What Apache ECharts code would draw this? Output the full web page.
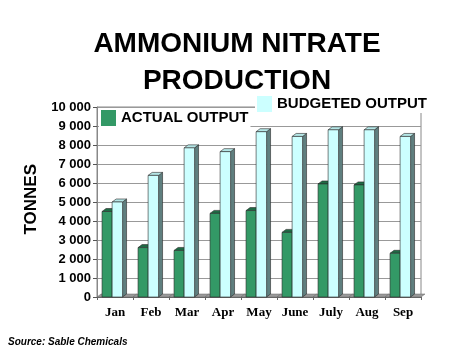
<!DOCTYPE html>
<html>
<head>
<meta charset="utf-8">
<script src="https://cdn.jsdelivr.net/npm/echarts@6/dist/echarts.min.js"></script>
<style>
html,body{margin:0;padding:0;background:#fff;}
#c{width:474px;height:355px;}
</style>
</head>
<body>
<div id="c"></div>
<script>
const categories = ['Jan','Feb','Mar','Apr','May','June','July','Aug','Sep'];
const actualOutput = [4500, 2600, 2450, 4400, 4550, 3400, 5950, 5900, 2300];
const budgetedOutput = [5000, 6400, 7850, 7650, 8700, 8450, 8800, 8800, 8450];
const yTicks = [0, 1000, 2000, 3000, 4000, 5000, 6000, 7000, 8000, 9000, 10000];

const DX = 4, DY = 3;
function makeRender(offFrac, wFrac, front, topC, sideC) {
  return function (params, api) {
    const i = api.value(0), v = api.value(1);
    const base = api.coord([i, 0]);
    const top = api.coord([i, v]);
    const cw = api.size([1, 0])[0];
    const x0 = base[0] + cw * offFrac;
    const x1 = x0 + cw * wFrac;
    const yt = top[1], yb = base[1];
    const st = {stroke: '#2a2a2a', lineWidth: 0.6};
    return {
      type: 'group',
      children: [
        {type: 'polygon', shape: {points: [[x1, yt], [x1 + DX, yt - DY], [x1 + DX, yb - DY], [x1, yb]]}, style: Object.assign({fill: sideC}, st)},
        {type: 'polygon', shape: {points: [[x0, yt], [x0 + DX, yt - DY], [x1 + DX, yt - DY], [x1, yt]]}, style: Object.assign({fill: topC}, st)},
        {type: 'rect', shape: {x: x0, y: yt, width: x1 - x0, height: yb - yt}, style: Object.assign({fill: front}, st)}
      ]
    };
  };
}
function floorRender(params, api) {
  const i = api.value(0);
  const base = api.coord([i, 0]);
  const cw = api.size([1, 0])[0];
  const xl = base[0] - cw / 2, xr = base[0] + cw / 2;
  const yb = base[1];
  return {
    type: 'polygon',
    shape: {points: [[xl, yb], [xl + DX, yb - DY], [xr + DX, yb - DY], [xr, yb]]},
    style: {fill: '#9a9a9a', stroke: '#666', lineWidth: 0.5}
  };
}

const chart = echarts.init(document.getElementById('c'), null, {renderer: 'canvas'});
chart.setOption({
  animation: false,
  backgroundColor: '#fff',
  title: {
    text: 'AMMONIUM NITRATE\nPRODUCTION',
    left: 'center', top: 21,
    textStyle: {fontFamily: 'Liberation Sans, Arial', fontWeight: 'bold', fontSize: 28, lineHeight: 37, color: '#000'}
  },
  graphic: [
    {type: 'text', left: 8, top: 337, style: {text: 'Source: Sable Chemicals', font: 'italic bold 10px "Liberation Sans", Arial', fill: '#000'}},
    {type: 'text', left: 23, top: 164, rotation: Math.PI / 2, style: {text: 'TONNES', font: 'bold 17px "Liberation Sans", Arial', fill: '#000'}}
  ],
  legend: [
    {data: ['ACTUAL OUTPUT'], left: 99, top: 109, itemWidth: 15, itemHeight: 16, itemGap: 5, padding: [1, 2], backgroundColor: '#fff',
     icon: 'rect', textStyle: {fontFamily: 'Liberation Sans, Arial', fontWeight: 'bold', fontSize: 15, color: '#000'}},
    {data: ['BUDGETED OUTPUT'], left: 255, top: 95, itemWidth: 15, itemHeight: 16, itemGap: 3, padding: [1, 2], backgroundColor: '#fff',
     icon: 'rect', textStyle: {fontFamily: 'Liberation Sans, Arial', fontWeight: 'bold', fontSize: 15, color: '#000'}}
  ],
  grid: {left: 97, right: 53, top: 107, bottom: 58, show: true, borderColor: '#888', borderWidth: 1},
  xAxis: {
    type: 'category', data: categories,
    axisLine: {lineStyle: {color: '#666'}},
    axisTick: {show: true, lineStyle: {color: '#666'}, length: 3},
    axisLabel: {fontFamily: 'Liberation Serif, Times New Roman', fontWeight: 'bold', fontSize: 13, color: '#000', margin: 9}
  },
  yAxis: {
    type: 'value', min: 0, max: 10000, interval: 1000,
    axisLine: {show: true, lineStyle: {color: '#888'}},
    axisTick: {show: true, length: 4, lineStyle: {color: '#555'}},
    splitLine: {lineStyle: {color: '#999'}},
    axisLabel: {fontFamily: 'Liberation Sans, Arial', fontWeight: 'bold', fontSize: 13, color: '#000', margin: 6,
      formatter: v => String(v).replace(/\B(?=(\d{3})+(?!\d))/g, ' ')}
  },
  series: [
    {name: 'floor', type: 'custom', renderItem: floorRender, data: categories.map((c, i) => [i, 0]), z: 1, silent: true},
    {name: 'ACTUAL OUTPUT', type: 'custom', itemStyle: {color: '#339966'}, z: 2,
     renderItem: makeRender(-0.36, 0.28, '#339966', '#1f6b45', '#1d5a3a'),
     data: actualOutput.map((v, i) => [i, v])},
    {name: 'BUDGETED OUTPUT', type: 'custom', itemStyle: {color: '#ccffff'}, z: 3,
     renderItem: makeRender(-0.08, 0.29, '#ccffff', '#b4e6e6', '#5f7f7f'),
     data: budgetedOutput.map((v, i) => [i, v])}
  ]
});
</script>
</body>
</html>
